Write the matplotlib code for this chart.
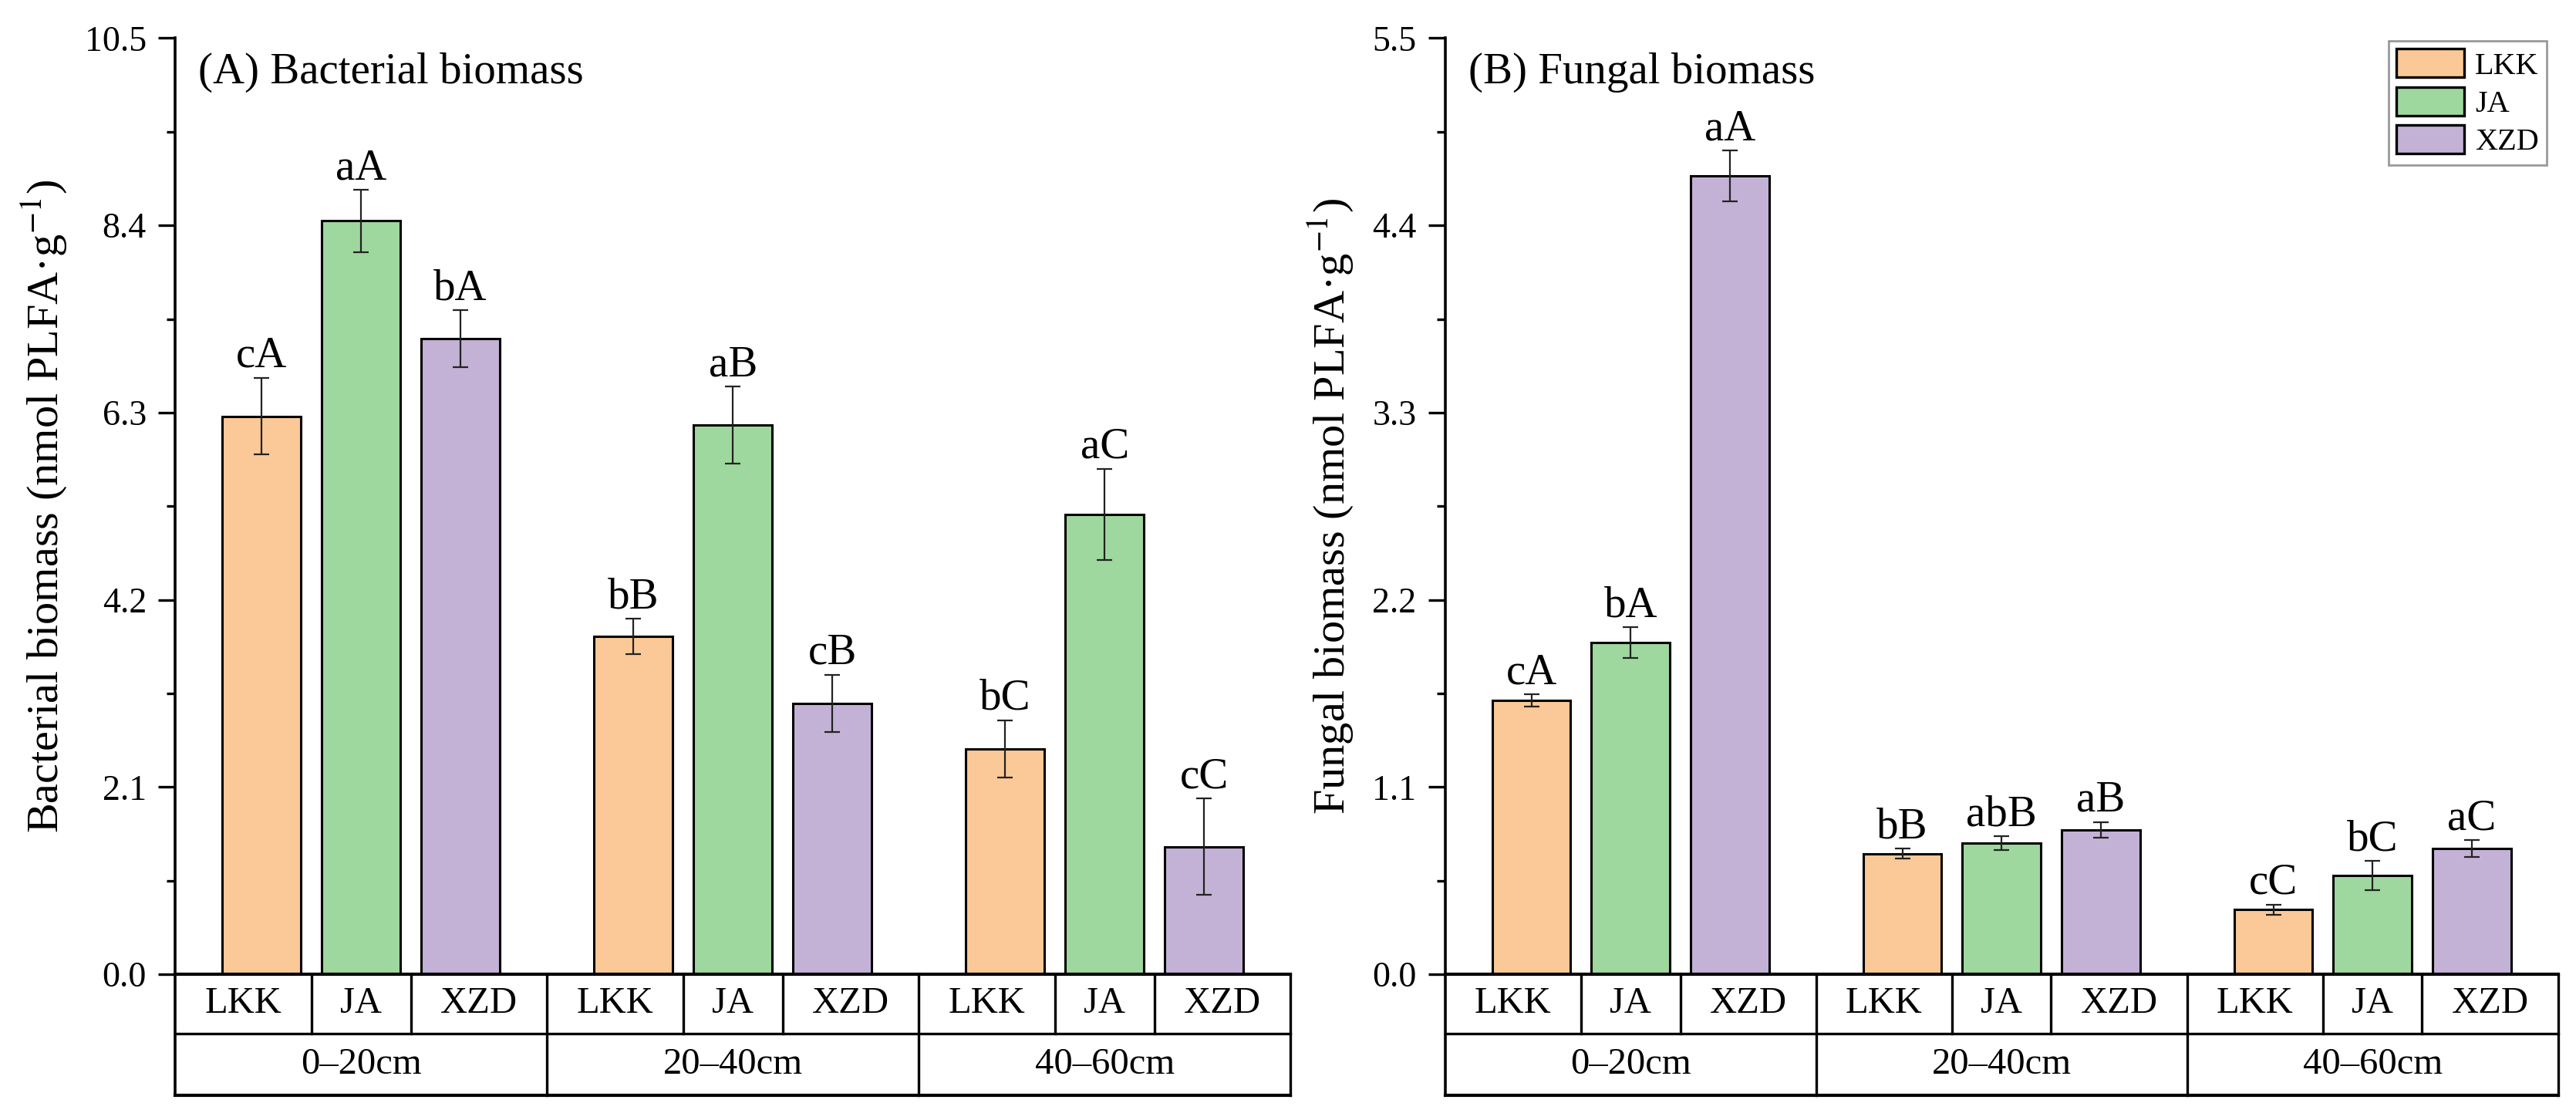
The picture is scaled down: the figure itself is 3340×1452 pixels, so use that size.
import matplotlib
matplotlib.use("Agg")
import matplotlib.pyplot as plt
import matplotlib.transforms as mtransforms
from matplotlib.patches import Patch
import numpy as np

plt.rcParams['font.family'] = ['Liberation Serif', 'DejaVu Serif']
plt.rcParams['mathtext.fontset'] = 'stix'

# data
sites = ['LKK', 'JA', 'XZD']
depths = ['0\u201320cm', '20\u201340cm', '40\u201360cm']
colors = ['#FBC997', '#9ED89E', '#C3B2D6']

# rows = depth, columns = site
bact_mean = [[6.26, 8.45, 7.13],
             [3.79, 6.16, 3.04],
             [2.53, 5.16, 1.43]]
bact_err = [[0.43, 0.35, 0.32],
            [0.20, 0.43, 0.32],
            [0.32, 0.51, 0.54]]
bact_lab = [['cA', 'aA', 'bA'],
            ['bB', 'aB', 'cB'],
            ['bC', 'aC', 'cC']]

fung_mean = [[1.61, 1.95, 4.69],
             [0.71, 0.77, 0.85],
             [0.38, 0.58, 0.74]]
fung_err = [[0.035, 0.09, 0.15],
            [0.03, 0.04, 0.045],
            [0.03, 0.085, 0.048]]
fung_lab = [['cA', 'bA', 'aA'],
            ['bB', 'abB', 'aB'],
            ['cC', 'bC', 'aC']]

bact_ticks = [0.0, 2.1, 4.2, 6.3, 8.4, 10.5]
fung_ticks = [0.0, 1.1, 2.2, 3.3, 4.4, 5.5]

GROUP = 3.74
PAD = 0.87
BAR_W = 0.79
ROW1 = -0.063
ROW2 = -0.129


def draw_panel(ax, means, errs, labs, ticks, title, ylabel, label_x):
    means = np.array(means)
    errs = np.array(errs)
    for k, site in enumerate(sites):
        x = np.arange(len(depths)) * GROUP + k
        ax.bar(x, means[:, k], width=BAR_W, color=colors[k], edgecolor='black',
               linewidth=1.1, label=site, zorder=2)
        ax.errorbar(x, means[:, k], yerr=errs[:, k], fmt='none', ecolor='#222222',
                    elinewidth=0.8, capsize=3.6, capthick=0.8, zorder=3)
        for i in range(len(depths)):
            ax.annotate(labs[i][k], (x[i], means[i, k] + errs[i, k]),
                        xytext=(0, 5), textcoords='offset points',
                        ha='center', va='baseline', fontsize=20.5)

    x_lo = -PAD
    x_hi = (len(depths) - 1) * GROUP + len(sites) - 1 + PAD
    ax.set_xlim(x_lo, x_hi)
    ax.set_ylim(ticks[0], ticks[-1])
    ax.set_yticks(ticks)
    ax.set_yticklabels(['%.1f' % t for t in ticks])
    ax.set_yticks([(a + b) / 2 for a, b in zip(ticks[:-1], ticks[1:])], minor=True)
    ax.tick_params(axis='y', which='major', length=7.9, width=1.2, labelsize=16.5, pad=5.5)
    ax.tick_params(axis='y', which='minor', length=4, width=1.2)
    ax.set_xticks([])
    for s in ['top', 'right', 'bottom']:
        ax.spines[s].set_visible(False)
    ax.spines['left'].set_linewidth(1.3)

    ax.text(0.021, 0.952, title, transform=ax.transAxes, fontsize=20.5,
            ha='left', va='baseline')
    ax.set_ylabel(ylabel, fontsize=21)
    ax.yaxis.set_label_coords(label_x, 0.5)

    # category table under the bars
    tr = mtransforms.blended_transform_factory(ax.transData, ax.transAxes)
    kw = dict(transform=tr, clip_on=False, color='black', solid_capstyle='projecting')
    ax.plot([x_lo, x_hi], [0, 0], lw=1.5, **kw)
    ax.plot([x_lo, x_hi], [ROW1, ROW1], lw=1.2, **kw)
    ax.plot([x_lo, x_hi], [ROW2, ROW2], lw=1.5, **kw)
    ax.plot([x_lo, x_lo], [0, ROW2], lw=1.3, **kw)
    for i, d in enumerate(depths):
        g0 = i * GROUP
        left = g0 - PAD
        right = g0 + len(sites) - 1 + PAD
        ax.plot([right, right], [0, ROW2], lw=1.2, **kw)
        for k in range(1, len(sites)):
            ax.plot([g0 + k - 0.5, g0 + k - 0.5], [0, ROW1], lw=1.2, **kw)
        edges = [left] + [g0 + k - 0.5 for k in range(1, len(sites))] + [right]
        for k, site in enumerate(sites):
            ax.text((edges[k] + edges[k + 1]) / 2, ROW1 / 2, site, transform=tr,
                    ha='center', va='center', fontsize=17.5)
        ax.text((left + right) / 2, (ROW1 + ROW2) / 2, d, transform=tr,
                ha='center', va='center', fontsize=17.5)


fig = plt.figure(figsize=(16.7, 7.26), dpi=200)
ax1 = fig.add_axes([0.068, 0.130, 0.433, 0.836])
ax2 = fig.add_axes([0.561, 0.130, 0.432, 0.836])

draw_panel(ax1, bact_mean, bact_err, bact_lab, bact_ticks,
           '(A) Bacterial biomass', 'Bacterial biomass (nmol PLFA\u00b7g$^{-1}$)', -0.095)
draw_panel(ax2, fung_mean, fung_err, fung_lab, fung_ticks,
           '(B) Fungal biomass', 'Fungal biomass (nmol PLFA\u00b7g$^{-1}$)', -0.080)

handles = [Patch(facecolor=c, edgecolor='black', linewidth=1.2, label=s)
           for c, s in zip(colors, sites)]
leg = ax2.legend(handles=handles, loc='upper right', bbox_to_anchor=(0.990, 0.997),
                 fontsize=14.5, frameon=True, fancybox=False, edgecolor='#808080',
                 handlelength=2.2, handleheight=1.05, labelspacing=0.2,
                 handletextpad=0.35, borderpad=0.25, borderaxespad=0)
leg.get_frame().set_linewidth(1.0)

fig.savefig('out.png', dpi=200, facecolor='white')
